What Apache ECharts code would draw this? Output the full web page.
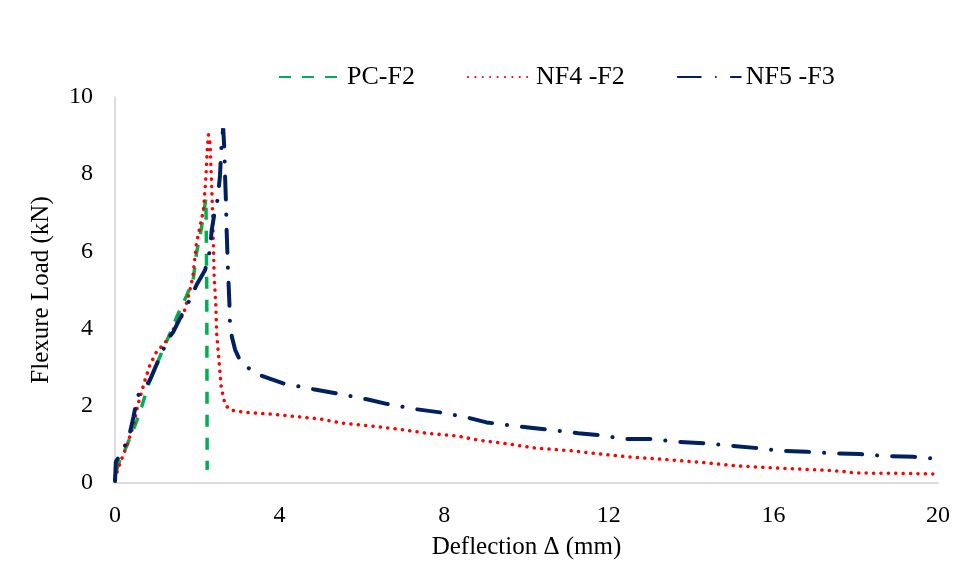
<!DOCTYPE html>
<html>
<head>
<meta charset="utf-8">
<script src="https://cdn.jsdelivr.net/npm/echarts@6/dist/echarts.min.js"></script>
<style>
html,body{margin:0;padding:0;background:#fff;}
#chart{width:960px;height:563px;}
</style>
</head>
<body>
<div id="chart"></div>
<script>
// ---- Data ----
const seriesNames = ['PC-F2', 'NF4 -F2', 'NF5 -F3'];
const xTicks = [0, 4, 8, 12, 16, 20];
const yTicks = [0, 2, 4, 6, 8, 10];

const pcX = [0.03, 0.12, 0.24, 0.49, 0.65, 0.85, 1.09, 1.34, 1.54, 1.74, 1.90, 1.98, 2.10, 2.21, 2.23, 2.24];
const pcY = [0.30, 0.60, 0.85, 1.50, 1.98, 2.67, 3.27, 3.88, 4.40, 4.85, 5.26, 5.95, 6.60, 7.38, 5.00, 0.34];

const nf4X = [0.00, 0.04, 0.12, 0.30, 0.45, 0.55, 0.73, 0.85, 1.01, 1.17, 1.30, 1.54, 1.66, 1.80, 1.89, 1.98, 2.15, 2.21, 2.24, 2.27, 2.31, 2.37, 2.41, 2.45, 2.47, 2.54, 2.58, 2.63, 2.68, 2.81, 3.16, 3.85, 4.42, 4.98, 5.47, 6.20, 6.93, 7.57, 8.30, 8.83, 9.44, 10.25, 11.06, 11.87, 12.68, 13.49, 14.30, 15.03, 15.84, 16.65, 17.46, 17.78, 17.95, 19.08, 20.00];
const nf4Y = [0.10, 0.25, 0.51, 1.00, 1.50, 2.00, 2.67, 3.06, 3.40, 3.58, 3.75, 4.22, 4.35, 4.90, 5.34, 6.21, 7.07, 7.94, 8.60, 9.02, 8.80, 7.07, 5.34, 4.61, 3.88, 3.01, 2.49, 2.24, 2.02, 1.89, 1.83, 1.78, 1.72, 1.66, 1.56, 1.48, 1.39, 1.29, 1.22, 1.11, 1.03, 0.90, 0.84, 0.74, 0.66, 0.60, 0.53, 0.45, 0.40, 0.36, 0.32, 0.29, 0.26, 0.25, 0.23];

const nf5X = [0.00, 0.02, 0.20, 0.36, 0.45, 0.53, 0.53, 0.69, 0.85, 0.97, 1.17, 1.30, 1.42, 1.74, 1.82, 1.98, 2.19, 2.31, 2.35, 2.41, 2.49, 2.55, 2.57, 2.59, 2.63, 2.66, 2.67, 2.70, 2.71, 2.74, 2.78, 2.79, 2.84, 2.92, 3.04, 3.24, 3.56, 4.09, 4.82, 5.39, 6.12, 6.60, 7.33, 7.90, 8.55, 9.03, 9.68, 10.21, 10.77, 11.26, 11.87, 12.35, 13.04, 13.61, 14.30, 14.82, 15.55, 16.12, 16.81, 17.42, 18.10, 18.71, 19.40, 20.00];
const nf5Y = [0.05, 0.55, 0.85, 1.29, 1.72, 2.15, 2.24, 2.41, 2.67, 2.97, 3.45, 3.75, 3.92, 4.61, 4.74, 5.13, 5.52, 6.04, 6.55, 6.94, 7.33, 7.94, 8.37, 8.80, 9.19, 8.58, 8.11, 7.16, 6.64, 5.69, 4.66, 4.22, 3.79, 3.45, 3.17, 2.98, 2.78, 2.58, 2.43, 2.32, 2.17, 2.05, 1.91, 1.83, 1.70, 1.57, 1.48, 1.42, 1.35, 1.29, 1.23, 1.14, 1.14, 1.07, 1.03, 0.98, 0.91, 0.84, 0.81, 0.77, 0.75, 0.70, 0.68, 0.62];

function pairs(xs, ys){ return xs.map((x, i) => [x, ys[i]]); }

const FONT = '"Liberation Serif", "Times New Roman", serif';
const chart = echarts.init(document.getElementById('chart'), null, {renderer: 'canvas'});

chart.setOption({
  backgroundColor: '#ffffff',
  animation: false,
  legend: {
    left: 273,
    top: 59,
    itemWidth: 63,
    itemHeight: 14,
    itemGap: 52,
    itemStyle: {opacity: 0},
    textStyle: {fontFamily: FONT, fontSize: 26, color: '#000'},
    data: seriesNames
  },
  grid: {left: 115, right: 22, top: 97, bottom: 80, containLabel: false, outerBoundsMode: 'none'},
  xAxis: {
    type: 'value', min: xTicks[0], max: xTicks[xTicks.length - 1], interval: 4,
    name: 'Deflection Δ (mm)', nameLocation: 'middle', nameGap: 52,
    nameTextStyle: {fontFamily: FONT, fontSize: 25, color: '#000'},
    axisLine: {show: true, lineStyle: {color: '#d0d0d0', width: 1.5}},
    axisTick: {show: false},
    splitLine: {show: false},
    axisLabel: {fontFamily: FONT, fontSize: 24, color: '#000', margin: 21}
  },
  yAxis: {
    type: 'value', min: yTicks[0], max: yTicks[yTicks.length - 1], interval: 2,
    name: 'Flexure Load (kN)', nameLocation: 'middle', nameGap: 61,
    nameTextStyle: {fontFamily: FONT, fontSize: 25, color: '#000'},
    axisLine: {show: true, lineStyle: {color: '#d0d0d0', width: 1.5}},
    axisTick: {show: false},
    splitLine: {show: false},
    axisLabel: {fontFamily: FONT, fontSize: 24, color: '#000', margin: 22}
  },
  series: [
    {
      name: seriesNames[0], type: 'line', data: pairs(pcX, pcY),
      symbol: 'none', showSymbol: false, z: 3,
      color: '#00b050',
      lineStyle: {color: '#00b050', width: 3.5, type: [12, 11]}
    },
    {
      name: seriesNames[1], type: 'line', data: pairs(nf4X, nf4Y),
      symbol: 'none', showSymbol: false, z: 4,
      color: '#ff0000',
      lineStyle: {color: '#ff0000', width: 3.5, type: [0.1, 7.3], cap: 'round'}
    },
    {
      name: seriesNames[2], type: 'line', data: pairs(nf5X, nf5Y),
      symbol: 'none', showSymbol: false, z: 5,
      color: '#002060',
      lineStyle: {color: '#002060', width: 4, type: [23, 15, 0.1, 15], cap: 'round'}
    }
  ]
});
</script>
</body>
</html>
